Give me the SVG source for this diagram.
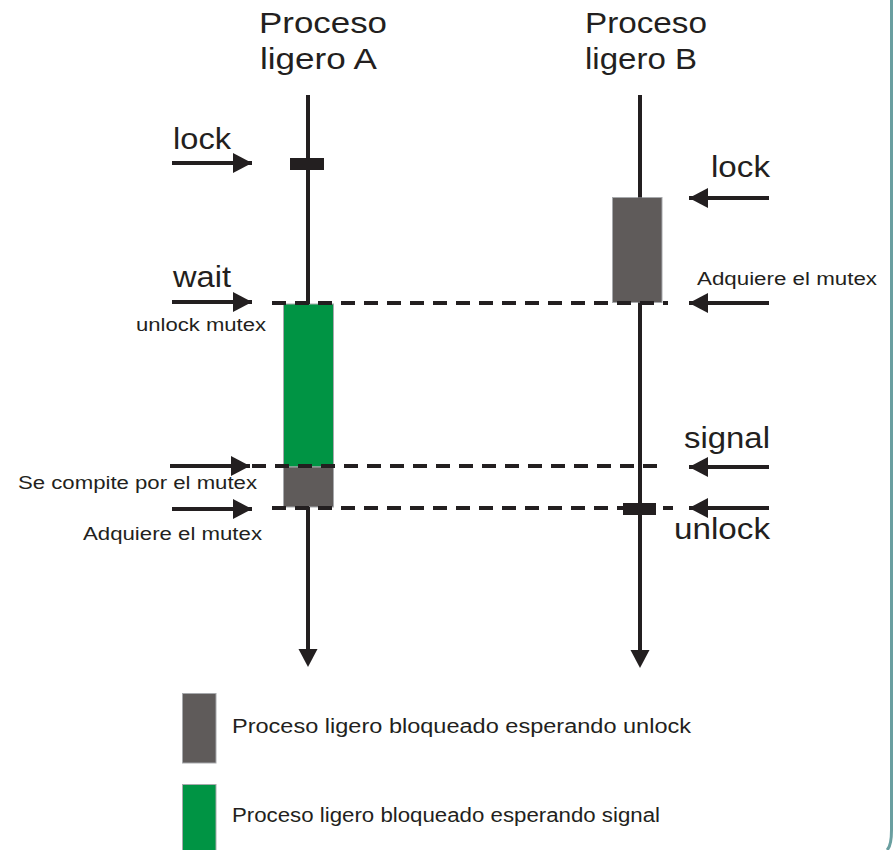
<svg xmlns="http://www.w3.org/2000/svg" width="893" height="850" viewBox="0 0 893 850">
  <style>
    text { font-family: "Liberation Sans", Arial, sans-serif; fill: #231f20; }
    .big { font-size: 30px; }
    .mid { font-size: 29px; }
    .small { font-size: 18px; }
    .legend { font-size: 20px; }
    .line { stroke: #231f20; stroke-width: 4; fill: none; }
    .dash { stroke: #231f20; stroke-width: 4; stroke-dasharray: 14 9; fill: none; }
    .arrow { stroke: #231f20; stroke-width: 4; fill: none; marker-end: url(#head); }
    .wait-unlock { fill: #5f5b5a; stroke: #a7a9ac; stroke-width: 1; }
    .wait-signal { fill: #009444; stroke: #a7a9ac; stroke-width: 1; }
    .bar { fill: #231f20; }
  </style>
  <defs>
    <marker id="head" markerUnits="userSpaceOnUse" markerWidth="20" markerHeight="20" refX="19" refY="10" orient="auto">
      <path d="M0,0 L19,10 L0,20 Z" fill="#231f20"/>
    </marker>
  </defs>

  <rect width="893" height="850" fill="#ffffff"/>
  <!-- frame edge on the right -->
  <path d="M891.5,0 V830 Q891.5,846 887,850" fill="none" stroke="#6a9fa0" stroke-width="3"/>

  <!-- thread A -->
  <g id="threadA">
    <text class="big" x="259" y="33" textLength="128" lengthAdjust="spacingAndGlyphs">Proceso</text>
    <text class="big" x="260" y="69" textLength="117" lengthAdjust="spacingAndGlyphs">ligero A</text>
  </g>
  <!-- thread B -->
  <g id="threadB">
    <text class="big" x="585" y="33" textLength="122" lengthAdjust="spacingAndGlyphs">Proceso</text>
    <text class="big" x="585" y="69" textLength="112" lengthAdjust="spacingAndGlyphs">ligero B</text>
  </g>

  <!-- blocked intervals -->
  <g id="A-wait-signal"><rect class="wait-signal" x="283.5" y="304" width="50" height="163"/></g>
  <g id="A-wait-unlock"><rect class="wait-unlock" x="283.5" y="467" width="50" height="40"/></g>
  <g id="B-wait-unlock"><rect class="wait-unlock" x="612.5" y="197.5" width="49.5" height="105"/></g>

  <!-- connectors: timelines, synchronisation levels and event arrows -->
  <g id="connectors">
    <line class="line" x1="308" y1="95" x2="308" y2="304"/>
    <line class="line" x1="308" y1="507" x2="308" y2="652"/>
    <line class="line" x1="640" y1="95" x2="640" y2="197.5"/>
    <line class="line" x1="640" y1="302.5" x2="640" y2="653"/>
    <path d="M298.5,649 L317.5,649 L308,667 Z" fill="#231f20"/>
    <path d="M630.5,650 L649.5,650 L640,668 Z" fill="#231f20"/>

    <line class="dash" x1="272" y1="303" x2="668" y2="303"/>
    <line class="dash" x1="252" y1="466" x2="658" y2="466"/>
    <line class="dash" x1="272" y1="508" x2="673" y2="508"/>

    <line class="arrow" x1="172" y1="163" x2="252" y2="163"/>
    <line class="arrow" x1="172" y1="302" x2="252" y2="302"/>
    <line class="arrow" x1="170" y1="466" x2="250" y2="466"/>
    <line class="arrow" x1="172" y1="509" x2="252" y2="509"/>

    <line class="arrow" x1="769" y1="198" x2="689" y2="198"/>
    <line class="arrow" x1="769" y1="303" x2="689" y2="303"/>
    <line class="arrow" x1="769" y1="467" x2="689" y2="467"/>
    <line class="arrow" x1="769" y1="508" x2="689" y2="508"/>
  </g>

  <!-- lock / unlock marks -->
  <g id="lockA"><rect class="bar" x="290" y="158" width="34" height="12"/></g>
  <g id="unlockB"><rect class="bar" x="623" y="503" width="33" height="12"/></g>

  <!-- event labels -->
  <g id="labels">
    <text class="mid" x="173" y="149" textLength="58" lengthAdjust="spacingAndGlyphs">lock</text>
    <text class="mid" x="173" y="287" textLength="58" lengthAdjust="spacingAndGlyphs">wait</text>
    <text class="small" x="136" y="331" textLength="130" lengthAdjust="spacingAndGlyphs">unlock mutex</text>
    <text class="small" x="18" y="489" textLength="239" lengthAdjust="spacingAndGlyphs">Se compite por el mutex</text>
    <text class="small" x="83" y="540" textLength="179" lengthAdjust="spacingAndGlyphs">Adquiere el mutex</text>

    <text class="mid" x="711" y="177" textLength="59" lengthAdjust="spacingAndGlyphs">lock</text>
    <text class="small" x="697" y="285" textLength="180" lengthAdjust="spacingAndGlyphs">Adquiere el mutex</text>
    <text class="mid" x="684" y="448" textLength="86" lengthAdjust="spacingAndGlyphs">signal</text>
    <text class="mid" x="674" y="539" textLength="96" lengthAdjust="spacingAndGlyphs">unlock</text>
  </g>

  <!-- legend -->
  <g id="legend-unlock">
    <rect class="wait-unlock" x="182.5" y="693.5" width="33.5" height="69.5"/>
    <text class="legend" x="232" y="733" textLength="459" lengthAdjust="spacingAndGlyphs">Proceso ligero bloqueado esperando unlock</text>
  </g>
  <g id="legend-signal">
    <rect class="wait-signal" x="182.5" y="784.5" width="33.5" height="70"/>
    <text class="legend" x="232" y="822" textLength="428" lengthAdjust="spacingAndGlyphs">Proceso ligero bloqueado esperando signal</text>
  </g>
</svg>
